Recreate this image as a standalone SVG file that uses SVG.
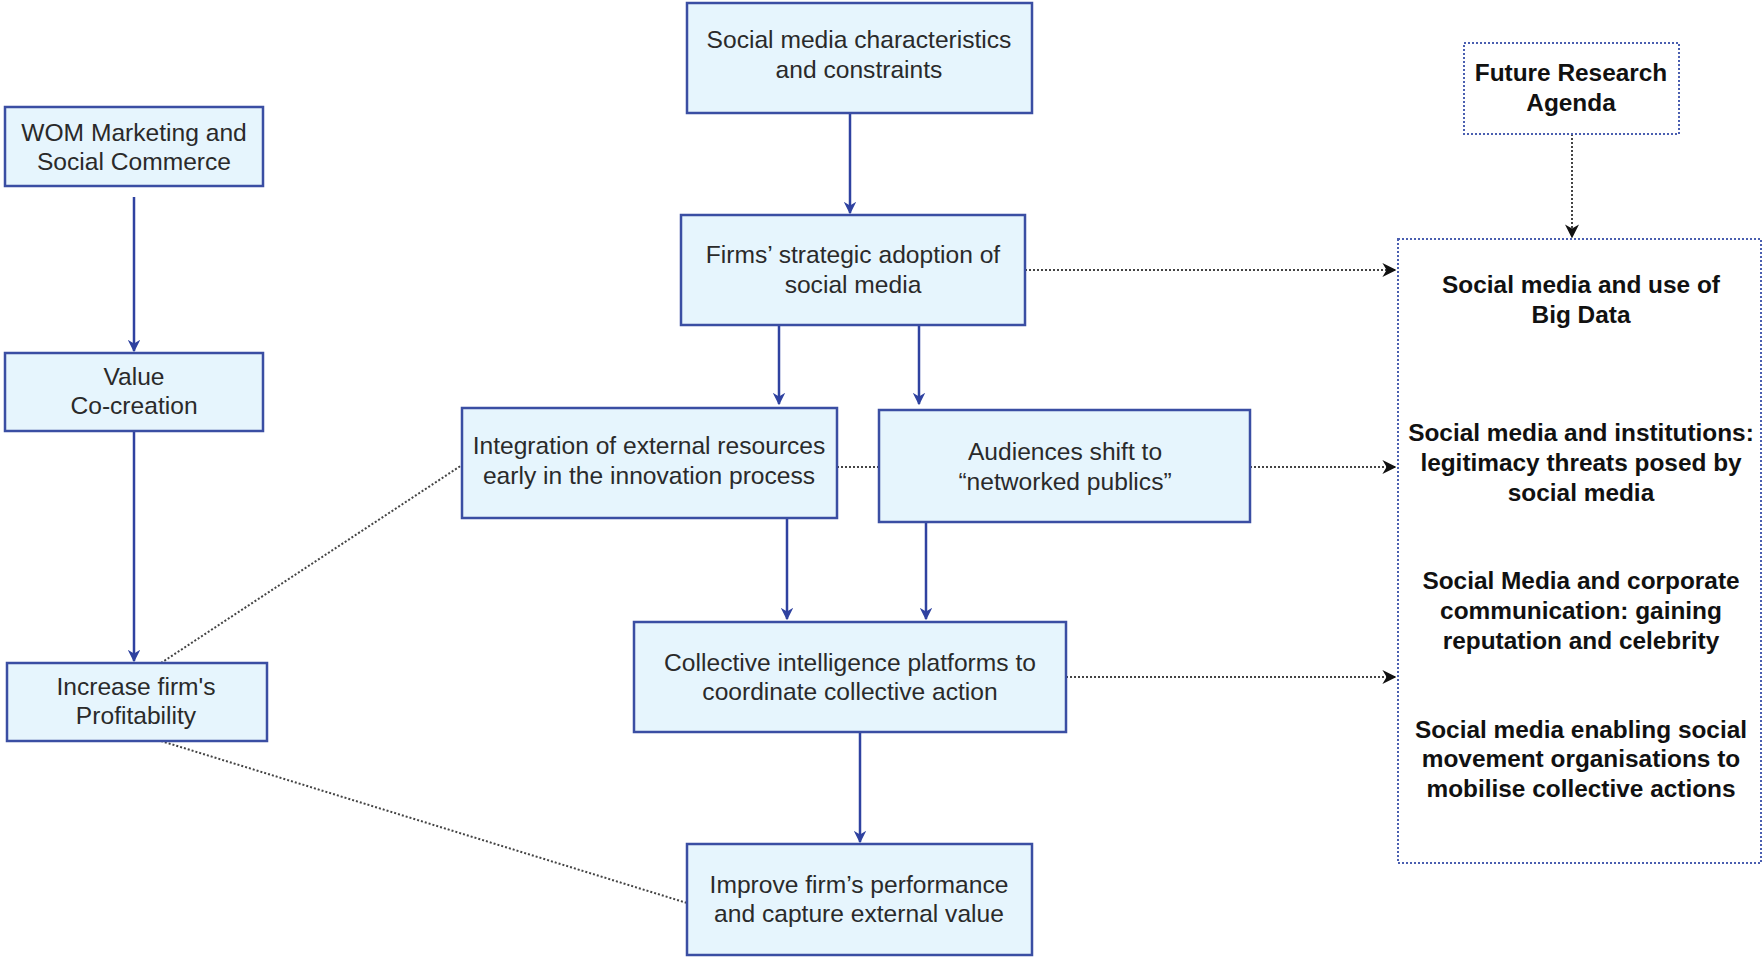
<svg xmlns="http://www.w3.org/2000/svg" width="1763" height="957" viewBox="0 0 1763 957">
<style>
.box{fill:#e6f5fd;stroke:#3a4ea3;stroke-width:2.5}
.t{font-family:"Liberation Sans",Arial,sans-serif;font-size:24.6px;fill:#2a2a2a;text-anchor:middle}
.b{font-family:"Liberation Sans",Arial,sans-serif;font-size:24.4px;font-weight:bold;fill:#111;text-anchor:middle}
.dbox{fill:none;stroke:#4a5fb0;stroke-width:2;stroke-dasharray:2 2}
.solid{fill:none;stroke:#2f42a0;stroke-width:2.5}
.dot{fill:none;stroke:#444;stroke-width:2;stroke-dasharray:2 2}
</style>
<defs>
<marker id="ab" viewBox="0 0 10 10" refX="9" refY="5" markerWidth="5" markerHeight="5" orient="auto" markerUnits="strokeWidth"><path d="M0,0 L10,5 L0,10 L3,5 z" fill="#2f42a0"/></marker>
<marker id="ak" viewBox="0 0 10 10" refX="9" refY="5" markerWidth="7" markerHeight="7" orient="auto" markerUnits="strokeWidth"><path d="M0,0 L10,5 L0,10 L3,5 z" fill="#111"/></marker>
</defs>
<rect width="1763" height="957" fill="#fff"/>
<g id="connectors">
<line class="solid" x1="134" y1="197" x2="134" y2="351" marker-end="url(#ab)"/>
<line class="solid" x1="134" y1="431" x2="134" y2="661" marker-end="url(#ab)"/>
<line class="solid" x1="850" y1="113" x2="850" y2="213" marker-end="url(#ab)"/>
<line class="solid" x1="779" y1="325" x2="779" y2="404" marker-end="url(#ab)"/>
<line class="solid" x1="919" y1="325" x2="919" y2="404" marker-end="url(#ab)"/>
<line class="solid" x1="787" y1="518" x2="787" y2="619" marker-end="url(#ab)"/>
<line class="solid" x1="926" y1="522" x2="926" y2="619" marker-end="url(#ab)"/>
<line class="solid" x1="860" y1="732" x2="860" y2="842" marker-end="url(#ab)"/>
<line class="dot" x1="837" y1="467" x2="879" y2="467"/>
<line class="dot" x1="1025" y1="270" x2="1395" y2="270" marker-end="url(#ak)"/>
<line class="dot" x1="1250" y1="467" x2="1395" y2="467" marker-end="url(#ak)"/>
<line class="dot" x1="1066" y1="677" x2="1395" y2="677" marker-end="url(#ak)"/>
<line class="dot" x1="1572" y1="134" x2="1572" y2="237" marker-end="url(#ak)"/>
<line class="dot" x1="161" y1="663" x2="462" y2="465"/>
<line class="dot" x1="161" y1="741" x2="687" y2="903"/>
</g>
<g id="wom"><rect class="box" x="5" y="107" width="258" height="79"/><text class="t" x="134" y="141">WOM Marketing and</text><text class="t" x="134" y="170">Social Commerce</text></g>
<g id="value"><rect class="box" x="5" y="353" width="258" height="78"/><text class="t" x="134" y="385">Value</text><text class="t" x="134" y="414">Co-creation</text></g>
<g id="increase"><rect class="box" x="7" y="663" width="260" height="78"/><text class="t" x="136" y="695">Increase firm's</text><text class="t" x="136" y="724">Profitability</text></g>
<g id="smc"><rect class="box" x="687" y="3" width="345" height="110"/><text class="t" x="859" y="48">Social media characteristics</text><text class="t" x="859" y="78">and constraints</text></g>
<g id="firms"><rect class="box" x="681" y="215" width="344" height="110"/><text class="t" x="853" y="263">Firms’ strategic adoption of</text><text class="t" x="853" y="293">social media</text></g>
<g id="integration"><rect class="box" x="462" y="408" width="375" height="110"/><text class="t" x="649" y="454">Integration of external resources</text><text class="t" x="649" y="484">early in the innovation process</text></g>
<g id="audiences"><rect class="box" x="879" y="410" width="371" height="112"/><text class="t" x="1065" y="460">Audiences shift to</text><text class="t" x="1065" y="490">“networked publics”</text></g>
<g id="collective"><rect class="box" x="634" y="622" width="432" height="110"/><text class="t" x="850" y="671">Collective intelligence platforms to</text><text class="t" x="850" y="700">coordinate collective action</text></g>
<g id="improve"><rect class="box" x="687" y="844" width="345" height="111"/><text class="t" x="859" y="893">Improve firm’s performance</text><text class="t" x="859" y="922">and capture external value</text></g>
<g id="future"><rect class="dbox" x="1464" y="43" width="215" height="91"/><text class="b" x="1571" y="81">Future Research</text><text class="b" x="1571" y="111">Agenda</text></g>
<g id="agenda">
<rect class="dbox" x="1398" y="239" width="363" height="624"/>
<text class="b" x="1581" y="293">Social media and use of</text>
<text class="b" x="1581" y="323">Big Data</text>
<text class="b" x="1581" y="441">Social media and institutions:</text>
<text class="b" x="1581" y="471">legitimacy threats posed by</text>
<text class="b" x="1581" y="501">social media</text>
<text class="b" x="1581" y="589">Social Media and corporate</text>
<text class="b" x="1581" y="619">communication: gaining</text>
<text class="b" x="1581" y="649">reputation and celebrity</text>
<text class="b" x="1581" y="738">Social media enabling social</text>
<text class="b" x="1581" y="767">movement organisations to</text>
<text class="b" x="1581" y="797">mobilise collective actions</text>
</g>
</svg>
